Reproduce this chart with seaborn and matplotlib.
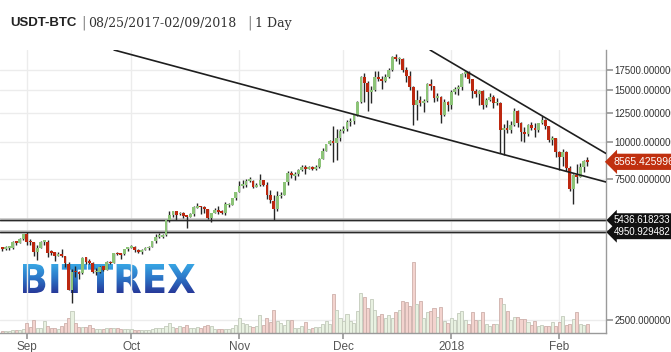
import numpy as np
import pandas as pd
import matplotlib
matplotlib.use("Agg")
import matplotlib.pyplot as plt
import matplotlib.dates as mdates
import matplotlib.ticker as mticker
from matplotlib.transforms import blended_transform_factory
from matplotlib.textpath import TextPath
from matplotlib.font_manager import FontProperties
from matplotlib.patches import PathPatch
from matplotlib.colors import LinearSegmentedColormap
import seaborn as sns

# --- DATA (daily candles, USDT-BTC, Bittrex) ---
dates = pd.date_range("2017-08-25", "2018-02-09", freq="D")

opens = [
    4372, 4345, 4384, 4389, 4570, 4555, 4701, 4901, 4591, 4592,
    4229, 4376, 4589, 4605, 4229, 4229, 4123, 4168, 4131, 3875,
    3166, 3637, 3606, 3592, 4073, 3916, 3901, 3628, 3629, 3796,
    3681, 3928, 3892, 4198, 4172, 4166, 4341, 4395, 4409, 4319,
    4230, 4324, 4369, 4429, 4614, 4777, 4789, 4829, 5464, 5643,
    5835, 5687, 5741, 5603, 5583, 5709, 5996, 6036, 6006, 5935,
    5525, 5747, 5899, 5787, 5754, 6115, 6132, 6440, 6777, 7087,
    7164, 7404, 7403, 7023, 7141, 7446, 7173, 6618, 6295, 5938,
    6561, 6634, 7323, 7853, 7697, 7766, 8039, 8205, 8077, 8233,
    8074, 8241, 8789, 9352, 9823, 10077, 9888, 10300, 10910, 11070,
    11650, 11800, 12330, 13640, 16610, 15850, 14780, 15020, 16610, 16300,
    16060, 16520, 17500, 19350, 19000, 19080, 17500, 16700, 15300, 13330,
    13860, 13500, 13700, 15700, 15400, 14100, 14200, 12350, 13650, 13300,
    14780, 15100, 15340, 16900, 17200, 16280, 14900, 14520, 14900, 13330,
    13860, 14200, 13500, 13550, 10970, 11150, 10950, 11410, 12750, 11560,
    10830, 10650, 11400, 11150, 10980, 11560, 11860, 11320, 10150, 10285,
    9270, 8900, 9250, 8150, 6940, 7700, 7600, 8200, 8600,
]
highs = [
    4379, 4456, 4425, 4626, 4626, 4736, 4892, 4975, 4714, 4592,
    4479, 4617, 4655, 4661, 4308, 4245, 4261, 4345, 4131, 3920,
    3733, 3808, 3664, 4079, 4094, 4031, 3916, 3758, 3819, 3796,
    3951, 3969, 4210, 4248, 4214, 4358, 4404, 4470, 4432, 4352,
    4362, 4413, 4443, 4624, 4878, 4923, 4873, 5446, 5857, 5837,
    5853, 5776, 5800, 5603, 5744, 6069, 6194, 6076, 6075, 5935,
    5761, 5971, 6059, 5876, 6255, 6214, 6470, 6767, 7367, 7461,
    7492, 7617, 7445, 7253, 7776, 7446, 7313, 6874, 6625, 6811,
    6764, 7342, 7967, 8004, 7884, 8102, 8336, 8348, 8302, 8267,
    8375, 8790, 9523, 9818, 10125, 11300, 11070, 11046, 11320, 11859,
    12000, 12400, 13700, 16650, 17060, 16100, 15500, 17400, 17300, 16700,
    16900, 17800, 19500, 19850, 19300, 19200, 17900, 17300, 15500, 15000,
    14300, 14000, 15800, 16300, 15500, 14600, 14300, 14000, 13800, 15000,
    15300, 15600, 17100, 17300, 17300, 16300, 15100, 15000, 14950, 14100,
    14600, 14400, 14100, 13600, 11500, 11900, 11800, 13000, 12800, 11700,
    11200, 11500, 11700, 11550, 11600, 12200, 11950, 11350, 10450, 10300,
    9300, 9450, 9330, 8300, 7800, 8400, 8500, 8700, 8900,
]
lows = [
    4269, 4328, 4320, 4352, 4471, 4549, 4678, 4469, 4483, 4104,
    3991, 4376, 4492, 4075, 4156, 3951, 4100, 4069, 3789, 3153,
    2846, 3487, 3445, 3591, 3868, 3857, 3613, 3554, 3594, 3666,
    3681, 3869, 3892, 4140, 4028, 4161, 4289, 4377, 4258, 4210,
    4191, 4320, 4318, 4429, 4564, 4739, 4751, 4822, 5381, 5591,
    5449, 5643, 5528, 5112, 5583, 5628, 5965, 5703, 5732, 5504,
    5373, 5747, 5724, 5689, 5684, 6040, 6103, 6377, 6758, 7003,
    7031, 7333, 7007, 7023, 7114, 7102, 6436, 6223, 5437, 5844,
    6461, 6634, 7176, 7561, 7463, 7694, 7949, 7762, 8075, 8038,
    8050, 8191, 8775, 9352, 9736, 8550, 8660, 10100, 10716, 10900,
    11300, 11500, 12200, 13500, 13675, 12750, 13500, 14900, 16100, 15060,
    15900, 16400, 17300, 18700, 18300, 17200, 16000, 15000, 11400, 11850,
    13200, 12600, 13600, 15000, 13600, 13800, 11550, 12200, 12700, 12900,
    14500, 14400, 15000, 16600, 15800, 14100, 14200, 13330, 12900, 13100,
    13700, 13000, 13300, 9180, 9030, 10700, 10700, 11300, 11200, 10100,
    10000, 10500, 10950, 10400, 10800, 11500, 11100, 10000, 9800, 8900,
    8050, 8300, 8000, 6850, 6160, 7250, 7600, 7900, 8300,
]
closes = [
    4352, 4382, 4392, 4579, 4565, 4703, 4892, 4578, 4582, 4236,
    4376, 4598, 4599, 4228, 4226, 4123, 4161, 4130, 3882, 3154,
    3637, 3625, 3582, 4065, 3925, 3906, 3631, 3630, 3792, 3682,
    3926, 3892, 4200, 4174, 4163, 4338, 4403, 4409, 4317, 4229,
    4328, 4370, 4426, 4610, 4772, 4781, 4826, 5446, 5647, 5831,
    5678, 5725, 5605, 5590, 5708, 6011, 6031, 6008, 5930, 5527,
    5750, 5904, 5780, 5753, 6153, 6130, 6468, 6767, 7078, 7207,
    7379, 7407, 7022, 7144, 7459, 7143, 6618, 6357, 5950, 6559,
    6635, 7315, 7871, 7708, 7790, 8036, 8200, 8072, 8254, 8091,
    8250, 8753, 9330, 9818, 10058, 9888, 10300, 10910, 11070, 11650,
    11800, 12330, 13640, 16610, 15850, 14780, 15020, 16610, 16300, 16060,
    16520, 17500, 19350, 19000, 19080, 17500, 16700, 15300, 13330, 13860,
    13500, 13700, 15700, 15400, 14100, 14200, 12350, 13650, 13300, 14780,
    15100, 15340, 16900, 17200, 16280, 14900, 14520, 14900, 13330, 13860,
    14200, 13500, 13550, 10970, 11150, 10950, 11410, 12750, 11560, 10830,
    10650, 11400, 11150, 10980, 11560, 11860, 11320, 10150, 10285, 9270,
    8900, 9250, 8150, 6940, 7700, 7600, 8200, 8600, 8565.425996,
]
# relative daily volume
volumes = [
    2, 2, 2.5, 3, 3, 3.5, 4, 10, 6, 13,
    5, 5, 12.5, 7, 5, 5, 4, 7, 10, 15,
    21.7, 10, 6.5, 6.5, 6, 8, 5, 4.5, 4, 4,
    5, 5, 5, 5, 4, 4, 4, 4, 3.5, 3.5,
    3.5, 3.5, 3, 4, 5, 5, 5, 7, 10, 6,
    5, 7, 6, 8, 5, 5.5, 6, 5, 7, 8,
    7, 4.5, 4, 4, 4, 4.5, 5, 8, 15, 10,
    9, 7, 6, 7, 18, 8, 15, 11, 23, 12,
    10, 8, 13, 13, 5, 5, 6.7, 10.7, 4.3, 5,
    6, 6, 9.3, 11.7, 9, 39.3, 23.3, 15, 11.7, 19.3,
    11.7, 10, 22.3, 40, 36, 25, 34, 23.3, 17.3, 19.3,
    15, 18.3, 15, 21.3, 23.3, 32.3, 30.7, 27.3, 71, 29,
    32.3, 15, 20.7, 21.7, 25, 16, 26, 12.3, 10, 15,
    13.3, 20, 22.3, 12.7, 9.3, 21.3, 13.3, 13.3, 21, 9,
    6.7, 9, 9, 35, 29.3, 22.3, 13.3, 16, 16, 14,
    14, 10.7, 8.3, 12.3, 6.7, 7.7, 7.3, 6.7, 10.7, 6.7,
    10.7, 17.3, 8.3, 9.3, 14.3, 21, 9, 8.3, 9,
]

support_levels = [5436.618233, 4950.929482]
last_price = 8565.425996

# hand drawn trend lines (start, end)
trend_long_x = ["2017-09-26 02:00", "2018-02-14 10:00"]
trend_long_y = [20450, 7320]
trend_short_x = ["2017-12-25 21:00", "2018-02-14 10:00"]
trend_short_y = [20450, 9140]

price_ticks = [2500, 5000, 7500, 10000, 12500, 15000, 17500]

# --- STYLE ---
sns.set_theme(style="white")
plt.rcParams['font.family'] = ['Liberation Sans', 'DejaVu Sans']

UP = "#8cc378"
DOWN = "#bc2810"
WICK = "#262626"

df = pd.DataFrame({"date": dates, "open": opens, "high": highs,
                   "low": lows, "close": closes, "volume": volumes})
df["x"] = mdates.date2num(df["date"])
df["up"] = df["close"] >= df["open"]

fig = plt.figure(figsize=(6.71, 3.52), dpi=100, facecolor="white")
ax = fig.add_axes([0, 19 / 352, 606 / 671, 283 / 352], zorder=2)
ax.patch.set_visible(False)

ax.set_yscale("log")
ax.set_autoscale_on(False)
x0 = mdates.date2num(pd.Timestamp("2017-08-24 07:30"))
x1 = mdates.date2num(pd.Timestamp("2018-02-14 10:00"))
ax.set_xlim(x0, x1)
ax.set_ylim(2260, 20450)

# BITTREX watermark, gradient filled text behind the candles
lax = fig.add_axes([23 / 671, 1 - 293 / 352, 172 / 671, 29 / 352], zorder=1)
fp = FontProperties(family="DejaVu Sans", weight="bold")
tp = TextPath((0, 0), "BITTREX", size=10, prop=fp)
bb = tp.get_extents()
lax.set_xlim(bb.x0, bb.x1)
lax.set_ylim(bb.y0, bb.y1)
patch = PathPatch(tp, fc="none", ec="none")
lax.add_patch(patch)
cmap = LinearSegmentedColormap.from_list("bx", ["#27399a", "#2c74c6", "#38a6e4"])
grad = np.linspace(0, 1, 64).reshape(-1, 1)
im = lax.imshow(grad, extent=[bb.x0, bb.x1, bb.y0, bb.y1], origin="lower",
                cmap=cmap, aspect="auto")
im.set_clip_path(patch)
lax.axis("off")

# volume bars at the bottom (axes fraction heights)
vol_tr = blended_transform_factory(ax.transData, ax.transAxes)
vol_scale = max(volumes) * 283 / 71
vcol = np.where(df["up"], "#e8f1e1", "#f3d3ce")
vedge = np.where(df["up"], "#c2cabb", "#cdb0ab")
ax.bar(df["x"], df["volume"] / vol_scale, width=0.88, bottom=0,
       color=vcol, edgecolor=vedge, linewidth=0.6, transform=vol_tr, zorder=1.5)

# support lines
for lvl in support_levels:
    ax.axhline(lvl, color="#c4c4c4", lw=2.6, zorder=2)
    ax.axhline(lvl, color="#2a2a2a", lw=1.0, zorder=2.1)

# candles
ax.vlines(df["x"], df["low"], df["high"], color=WICK, lw=1, zorder=3)
body_lo = np.minimum(df["open"], df["close"])
body_hi = np.maximum(np.maximum(df["open"], df["close"]), body_lo * 1.012)
ax.bar(df["x"], body_hi - body_lo, bottom=body_lo, width=0.8,
       color=np.where(df["up"], UP, DOWN), linewidth=0, zorder=4)

# trend lines
sns.lineplot(x=mdates.date2num(pd.to_datetime(trend_long_x)), y=trend_long_y,
             ax=ax, color="#1e1e1e", lw=1.2, zorder=5)
sns.lineplot(x=mdates.date2num(pd.to_datetime(trend_short_x)), y=trend_short_y,
             ax=ax, color="#1e1e1e", lw=1.2, zorder=5)
ax.set_xlim(x0, x1)
ax.set_ylim(2260, 20450)

# axes, ticks, grid
ax.grid(True, which="major", color="#ececec", lw=1)
ax.set_axisbelow(True)
ax.yaxis.tick_right()
ax.yaxis.set_major_locator(mticker.FixedLocator(price_ticks))
ax.yaxis.set_major_formatter(mticker.FormatStrFormatter("%.6f"))
ax.yaxis.set_minor_locator(mticker.NullLocator())
ax.yaxis.set_minor_formatter(mticker.NullFormatter())
ax.xaxis.set_major_locator(mdates.MonthLocator())
ax.xaxis.set_major_formatter(mticker.FuncFormatter(
    lambda v, p: str(mdates.num2date(v).year) if mdates.num2date(v).month == 1
    else mdates.num2date(v).strftime("%b")))
ax.tick_params(axis="x", length=4, color="#999999", labelcolor="#555555",
               labelsize=8.5, pad=2, bottom=True)
ax.tick_params(axis="y", length=5, color="#999999", labelcolor="#333333",
               labelsize=7, pad=1, right=True, left=False)
for s in ["top", "left"]:
    ax.spines[s].set_visible(False)
for s in ["right", "bottom"]:
    ax.spines[s].set_color("#9a9a9a")
    ax.spines[s].set_linewidth(1)
ax.set_xlabel("")
ax.set_ylabel("")

# price tags on the right edge
tag_tr = blended_transform_factory(ax.transAxes, ax.transData)
ax.text(1.013, last_price, f"{last_price:.6f}", transform=tag_tr, ha="left",
        va="center", color="white", fontsize=7.5, clip_on=False, zorder=10,
        bbox=dict(boxstyle="larrow,pad=0.3", fc="#c0300f", ec="none"))
for lvl in support_levels:
    ax.text(1.013, lvl, f"{lvl:.6f}", transform=tag_tr, ha="left", va="center",
            color="white", fontsize=7, clip_on=False, zorder=10,
            bbox=dict(boxstyle="larrow,pad=0.2", fc="#111111", ec="none"))

# title
ty = 1 - 26.5 / 352
fig.text(10 / 671, ty, "USDT-BTC", fontsize=9.5, fontweight="bold",
         color="#222222", va="baseline", family=["Liberation Sans", "DejaVu Sans"])
fig.text(81 / 671, ty, "|", fontsize=10, color="#888888", va="baseline",
         family=["DejaVu Sans"])
fig.text(88 / 671, ty, "08/25/2017-02/09/2018", fontsize=9, color="#333333",
         va="baseline", family=["DejaVu Serif"])
fig.text(247 / 671, ty, "|", fontsize=10, color="#888888", va="baseline",
         family=["DejaVu Sans"])
fig.text(255 / 671, ty, "1 Day", fontsize=9, color="#333333",
         va="baseline", family=["DejaVu Serif"])

fig.savefig("out.png", dpi=100, facecolor="white")
